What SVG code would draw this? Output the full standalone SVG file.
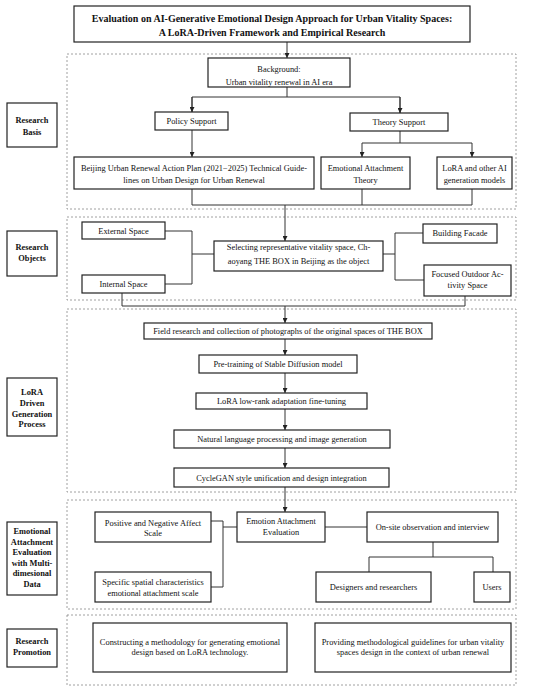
<svg xmlns="http://www.w3.org/2000/svg" width="550" height="692" viewBox="0 0 550 692">
<defs>
<marker id="arr" viewBox="0 0 6 6" refX="6" refY="3" markerWidth="5" markerHeight="5" markerUnits="userSpaceOnUse" orient="auto"><path d="M0,0 L6,3 L0,6 z" fill="#222"/></marker>
<style>
text{font-family:"Liberation Serif","Times New Roman",serif;fill:#111;text-anchor:middle}
.t{font-size:8.4px}
.b{font-size:8.4px;font-weight:bold}
.h{font-size:10px;font-weight:bold}
.n{fill:#fff;stroke:#222;stroke-width:1.2}
.d{fill:none;stroke:#888;stroke-width:0.8;stroke-dasharray:2,2}
.c{fill:none;stroke:#333;stroke-width:1}
.a{marker-end:url(#arr)}
</style>
</defs>
<rect width="550" height="692" fill="#fff"/>
<g id="sections">
<rect class="d" x="67" y="54" width="449" height="155"/>
<rect class="d" x="67" y="217" width="449" height="83"/>
<rect class="d" x="67" y="309" width="449" height="183"/>
<rect class="d" x="67" y="500" width="449" height="109"/>
<rect class="d" x="67" y="615" width="449" height="70"/>
</g>
<g id="connectors">
<line class="c a" x1="287" y1="42" x2="287" y2="58"/>
<polyline class="c" points="287,87 287,97"/>
<polyline class="c" points="192,112 192,97 400,97 400,113"/>
<line class="c a" x1="192" y1="97" x2="192" y2="112"/>
<line class="c a" x1="400" y1="97" x2="400" y2="113"/>
<line class="c a" x1="192" y1="130" x2="192" y2="157"/>
<line class="c" x1="400" y1="131" x2="400" y2="143"/>
<line class="c" x1="362" y1="143" x2="472" y2="143"/>
<line class="c a" x1="362" y1="143" x2="362" y2="157"/>
<line class="c a" x1="472" y1="143" x2="472" y2="157"/>
<polyline class="c" points="192,189 192,205 472,205 472,189"/>
<line class="c" x1="362" y1="189" x2="362" y2="205"/>
<line class="c a" x1="285" y1="205" x2="285" y2="241"/>
<polyline class="c" points="165,231 192,231 192,284 165,284"/>
<line class="c" x1="192" y1="254" x2="214" y2="254"/>
<line class="c" x1="383" y1="254" x2="395" y2="254"/>
<polyline class="c" points="423,233 395,233 395,280 424,280"/>
<polyline class="c" points="122,293 122,306 465,306 465,296"/>
<line class="c a" x1="285" y1="306" x2="285" y2="323"/>
<line class="c a" x1="285" y1="339" x2="285" y2="355"/>
<line class="c a" x1="285" y1="373" x2="285" y2="393"/>
<line class="c a" x1="285" y1="409" x2="285" y2="430"/>
<line class="c a" x1="285" y1="448" x2="285" y2="468"/>
<line class="c a" x1="285" y1="487" x2="285" y2="512"/>
<polyline class="c" points="211,521 223,521 223,587 211,587"/>
<line class="c" x1="223" y1="527" x2="237" y2="527"/>
<line class="c" x1="325" y1="527" x2="367" y2="527"/>
<line class="c" x1="433" y1="542" x2="433" y2="557"/>
<polyline class="c" points="369,572 369,557 493,557 493,572"/>
</g>
<g id="title"><rect class="n" x="74" y="6" width="396" height="36"/><text class="h" x="272" y="21.5">Evaluation on AI-Generative Emotional Design Approach for Urban Vitality Spaces:</text><text class="h" x="272" y="35.5">A LoRA-Driven Framework and Empirical Research</text></g>
<g id="label-basis"><rect class="n" x="7" y="103" width="50" height="44"/><text class="b" x="32" y="123">Research</text><text class="b" x="32" y="135">Basis</text></g>
<g id="label-objects"><rect class="n" x="7" y="231" width="50" height="45"/><text class="b" x="32" y="250">Research</text><text class="b" x="32" y="261">Objects</text></g>
<g id="label-lora"><rect class="n" x="7" y="378" width="50" height="58"/><text class="b" x="32" y="395">LoRA</text><text class="b" x="32" y="406">Driven</text><text class="b" x="32" y="417">Generation</text><text class="b" x="32" y="427">Process</text></g>
<g id="label-emotional"><rect class="n" x="7" y="522" width="50" height="73"/><text class="b" x="32" y="534">Emotional</text><text class="b" x="32" y="544.6">Attachment</text><text class="b" x="32" y="555.2">Evaluation</text><text class="b" x="32" y="565.8">with Multi-</text><text class="b" x="32" y="576.4">dimesional</text><text class="b" x="32" y="587">Data</text></g>
<g id="label-promotion"><rect class="n" x="7" y="629" width="50" height="38"/><text class="b" x="32" y="644">Research</text><text class="b" x="32" y="655">Promotion</text></g>
<g id="background"><rect class="n" x="208" y="58" width="142" height="29"/><text class="t" x="279" y="72">Background:</text><text class="t" x="279" y="85">Urban vitality renewal in AI era</text></g>
<g id="policy"><rect class="n" x="155" y="112" width="73" height="18"/><text class="t" x="191.5" y="124">Policy Support</text></g>
<g id="theory"><rect class="n" x="350" y="113" width="98" height="18"/><text class="t" x="399" y="125">Theory Support</text></g>
<g id="beijing"><rect class="n" x="74" y="157" width="240" height="32"/><text class="t" x="194" y="171">Beijing Urban Renewal Action Plan (2021−2025) Technical Guide-</text><text class="t" x="194" y="183">lines on Urban Design for Urban Renewal</text></g>
<g id="attachment-theory"><rect class="n" x="321" y="157" width="89" height="32"/><text class="t" x="365.5" y="171">Emotional Attachment</text><text class="t" x="365.5" y="183">Theory</text></g>
<g id="lora-models"><rect class="n" x="437" y="157" width="75" height="32"/><text class="t" x="474.5" y="171">LoRA and other AI</text><text class="t" x="474.5" y="183">generation models</text></g>
<g id="selecting"><rect class="n" x="214" y="241" width="169" height="30"/><text class="t" x="298.5" y="250">Selecting representative vitality space, Ch-</text><text class="t" x="298.5" y="264">aoyang THE BOX in Beijing as the object</text></g>
<g id="external"><rect class="n" x="82" y="222" width="83" height="17"/><text class="t" x="123.5" y="234">External Space</text></g>
<g id="internal"><rect class="n" x="82" y="275" width="83" height="18"/><text class="t" x="123.5" y="287">Internal Space</text></g>
<g id="facade"><rect class="n" x="423" y="224" width="74" height="19"/><text class="t" x="460" y="236">Building Facade</text></g>
<g id="focused"><rect class="n" x="424" y="265" width="87" height="31" stroke-width="1.6"/><text class="t" x="467.5" y="277">Focused Outdoor Ac-</text><text class="t" x="467.5" y="288">tivity Space</text></g>
<g id="field"><rect class="n" x="144" y="323" width="288" height="16"/><text class="t" x="288" y="333.5">Field research and collection of photographs of the original spaces of THE BOX</text></g>
<g id="pretraining"><rect class="n" x="199" y="355" width="158" height="18"/><text class="t" x="278" y="367">Pre-training of Stable Diffusion model</text></g>
<g id="lowrank"><rect class="n" x="196" y="393" width="171" height="16"/><text class="t" x="281.5" y="404">LoRA low-rank adaptation fine-tuning</text></g>
<g id="nlp"><rect class="n" x="174" y="430" width="216" height="18"/><text class="t" x="282" y="442">Natural language processing and image generation</text></g>
<g id="cyclegan"><rect class="n" x="174" y="468" width="215" height="19"/><text class="t" x="281.5" y="481">CycleGAN style unification and design integration</text></g>
<g id="panas"><rect class="n" x="95" y="512" width="116" height="30"/><text class="t" x="153" y="526">Positive and Negative Affect</text><text class="t" x="153" y="536">Scale</text></g>
<g id="evaluation"><rect class="n" x="237" y="512" width="88" height="30"/><text class="t" x="281" y="524">Emotion Attachment</text><text class="t" x="281" y="535">Evaluation</text></g>
<g id="onsite"><rect class="n" x="367" y="512" width="131" height="30"/><text class="t" x="432.5" y="530">On-site observation and interview</text></g>
<g id="specific"><rect class="n" x="95" y="572" width="116" height="30"/><text class="t" x="153" y="585">Specific spatial characteristics</text><text class="t" x="153" y="596">emotional attachment scale</text></g>
<g id="designers"><rect class="n" x="316" y="572" width="115" height="30"/><text class="t" x="373.5" y="590">Designers and researchers</text></g>
<g id="users"><rect class="n" x="474" y="572" width="36" height="30"/><text class="t" x="492" y="590">Users</text></g>
<g id="constructing"><rect class="n" x="93" y="623" width="194" height="49"/><text class="t" x="190" y="645">Constructing a methodology for generating emotional</text><text class="t" x="190" y="655">design based on LoRA technology.</text></g>
<g id="providing"><rect class="n" x="315" y="623" width="196" height="49"/><text class="t" x="413" y="645">Providing methodological guidelines for urban vitality</text><text class="t" x="413" y="655">spaces design in the context of urban renewal</text></g>
</svg>
